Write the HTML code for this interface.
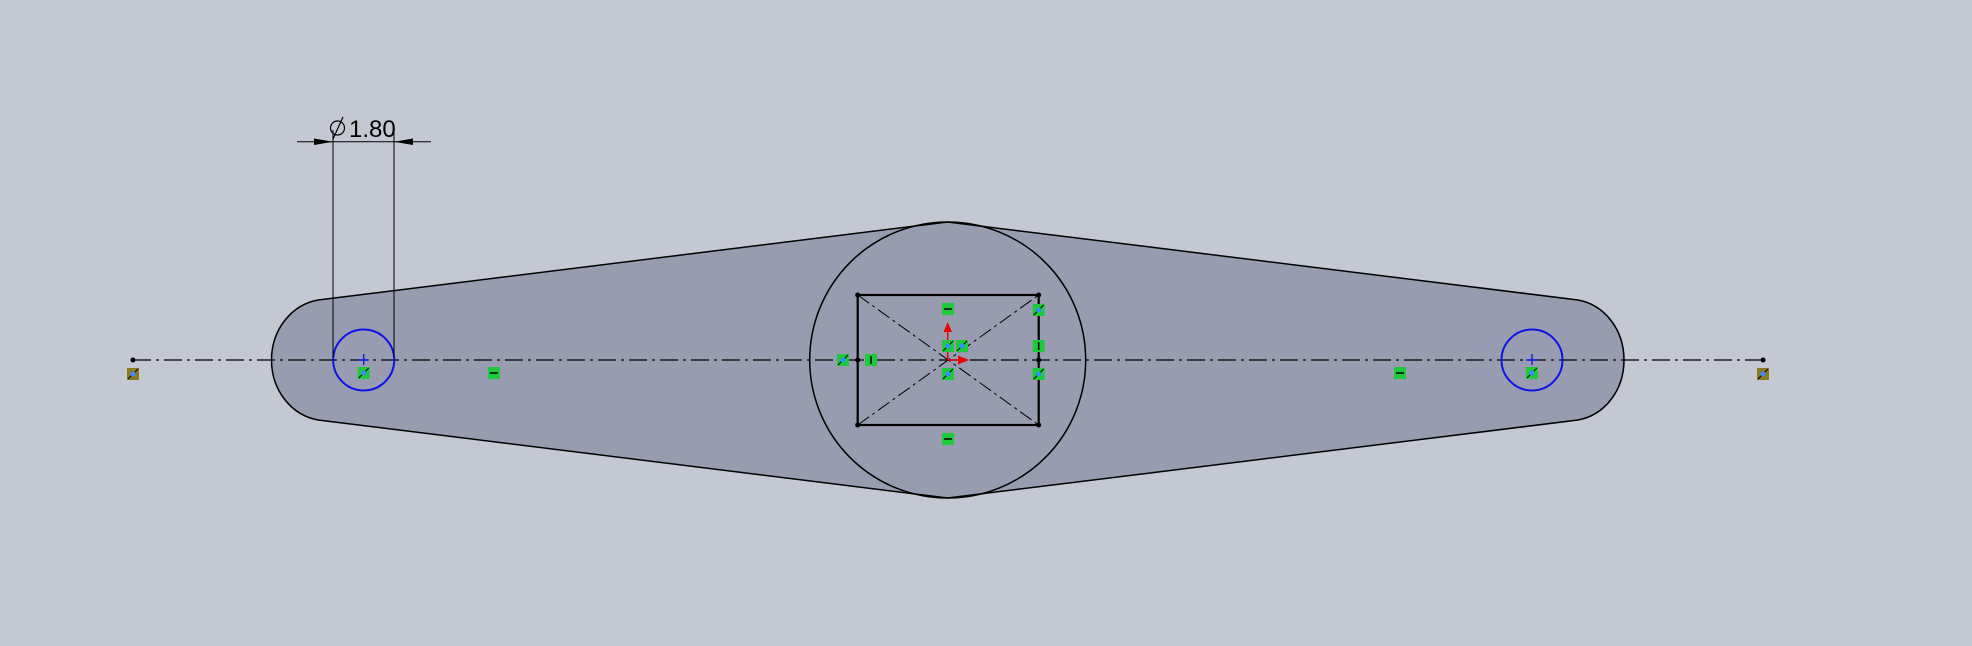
<!DOCTYPE html>
<html><head><meta charset="utf-8"><style>
html,body{margin:0;padding:0;background:#c4c8d2;width:1972px;height:646px;overflow:hidden}
svg{display:block}
</style></head><body>
<svg width="1972" height="646" viewBox="0 0 1972 646" font-family="Liberation Sans, sans-serif">
<defs>
<g id="rel-coinc"><rect x="-6" y="-6" width="12" height="12" fill="#1ec93c"/><line x1="-5" y1="5" x2="5" y2="-5" stroke="#000" stroke-width="1"/><circle r="2.5" fill="#3a8cff"/></g>
<g id="rel-eq"><rect x="-6" y="-6" width="12" height="12" fill="#1ec93c"/><line x1="-4" y1="0" x2="4" y2="0" stroke="#000" stroke-width="1.5"/></g>
<g id="rel-vert"><rect x="-6" y="-6" width="12" height="12" fill="#1ec93c"/><line x1="0" y1="-4" x2="0" y2="4" stroke="#000" stroke-width="1.5"/></g>
</defs>
<path d="M318,300 L947.7,222 L1578,300 C1605,305 1624,330 1624,360 C1624,390 1605,415 1578,420 L947.7,498 L318,420 C291,415 271.5,390 271.5,360 C271.5,330 291,305 318,300 Z" fill="#989cb0" stroke="#000" stroke-width="1.5"/>
<circle cx="947.7" cy="360" r="138" fill="none" stroke="#000" stroke-width="1.5"/>
<line x1="133" y1="360" x2="1763" y2="360" stroke="#000" stroke-width="1.3" stroke-dasharray="18,5,3,5"/>
<circle cx="133" cy="360" r="2.5" fill="#000"/>
<circle cx="1763" cy="360" r="2.5" fill="#000"/>
<rect x="857.7" y="295" width="181" height="130" fill="none" stroke="#000" stroke-width="2.2"/>
<line x1="857.7" y1="295" x2="1038.7" y2="425" stroke="#000" stroke-width="1" stroke-dasharray="14,4,3,4"/>
<line x1="857.7" y1="425" x2="1038.7" y2="295" stroke="#000" stroke-width="1" stroke-dasharray="14,4,3,4"/>
<g fill="#000">
<circle cx="857.7" cy="295" r="2.5"/><circle cx="1038.7" cy="295" r="2.5"/><circle cx="857.7" cy="425" r="2.5"/><circle cx="1038.7" cy="425" r="2.5"/><circle cx="857.7" cy="360" r="2.5"/><circle cx="1038.7" cy="360" r="2.5"/></g>
<circle cx="363.7" cy="360" r="30.5" fill="none" stroke="#0a12e8" stroke-width="2"/>
<circle cx="1532" cy="360" r="30.5" fill="none" stroke="#0a12e8" stroke-width="2"/>
<path d="M358,360h11M363.7,354v11M1526,360h12M1532,354v11" stroke="#0a12e8" stroke-width="1.3"/>
<g>
<line x1="947.7" y1="360" x2="947.7" y2="328" stroke="#e00" stroke-width="1.5"/><polygon points="947.7,322 943.5,332 952,332" fill="#e00"/>
<line x1="947.7" y1="360" x2="960" y2="360" stroke="#e00" stroke-width="1.5"/><polygon points="969,360 958,355.5 958,364.5" fill="#e00"/></g>
<g>
<line x1="333" y1="130" x2="333" y2="357" stroke="#000" stroke-width="1"/>
<line x1="394" y1="130" x2="394" y2="357" stroke="#000" stroke-width="1"/>
<line x1="297" y1="141.7" x2="431" y2="141.7" stroke="#000" stroke-width="1"/>
<polygon points="333,141.7 314,138.5 314,145" fill="#000"/>
<polygon points="394,141.7 413,138.5 413,145" fill="#000"/>
<circle cx="337.5" cy="128" r="7" fill="none" stroke="#000" stroke-width="1.2"/>
<line x1="333" y1="139" x2="343" y2="117" stroke="#000" stroke-width="1.2"/>
<text x="349" y="137" font-size="24" fill="#000">1.80</text></g>
<g>
<use href="#rel-coinc" x="363.7" y="373"/><use href="#rel-eq" x="494" y="373"/>
<use href="#rel-coinc" x="843" y="360"/><use href="#rel-vert" x="871" y="360"/>
<use href="#rel-eq" x="948" y="309"/><use href="#rel-coinc" x="948" y="346"/><use href="#rel-coinc" x="962" y="346"/><use href="#rel-coinc" x="948" y="374"/>
<use href="#rel-coinc" x="1038.7" y="310"/><use href="#rel-vert" x="1038.7" y="346"/><use href="#rel-coinc" x="1038.7" y="374"/>
<use href="#rel-eq" x="948" y="439"/><use href="#rel-eq" x="1400" y="373"/><use href="#rel-coinc" x="1532" y="373"/>
<g transform="translate(133,374)"><rect x="-6" y="-6" width="12" height="12" fill="#8a7a20"/><line x1="-5" y1="5" x2="5" y2="-5" stroke="#000"/><circle r="2.5" fill="#3a8cff"/></g>
<g transform="translate(1763,374)"><rect x="-6" y="-6" width="12" height="12" fill="#8a7a20"/><line x1="-5" y1="5" x2="5" y2="-5" stroke="#000"/><circle r="2.5" fill="#3a8cff"/></g>
</g>
</svg>
</body></html>
